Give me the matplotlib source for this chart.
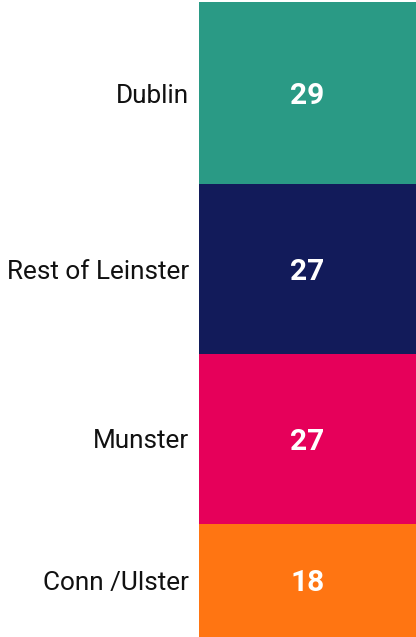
import matplotlib
matplotlib.use("Agg")
import matplotlib.pyplot as plt
import numpy as np

categories = ["Dublin", "Rest of Leinster", "Munster", "Conn /Ulster"]
values = [29, 27, 27, 18]
colors = ["#2A9A85", "#121B5A", "#E6005A", "#FF7512"]

fig = plt.figure(figsize=(4.16, 6.37), dpi=100)
ax = fig.add_axes([198.5 / 416, 0, 1 - 198.5 / 416, 635 / 637])

bottoms = np.concatenate([[0], np.cumsum(values)[:-1]])
total = sum(values)
for cat, v, b, c in zip(categories, values, bottoms, colors):
    ax.bar(0, v, bottom=b, width=1, color=c, edgecolor="none")
    ax.text(0, b + v / 2, str(v), ha="center", va="center_baseline", color="white",
            fontsize=21.5, fontweight="bold", family="Roboto")

ax.set_xlim(-0.5, 0.5)
ax.set_ylim(total, 0)
ax.set_yticks(bottoms + np.array(values) / 2)
ax.set_yticklabels(categories, family="Roboto", fontsize=18.8, color="#111111")
for lbl in ax.get_yticklabels():
    lbl.set_va("center_baseline")
ax.tick_params(axis="y", length=0, pad=6.5)
ax.set_xticks([])
for s in ax.spines.values():
    s.set_visible(False)

fig.savefig("out.png", dpi=100)
